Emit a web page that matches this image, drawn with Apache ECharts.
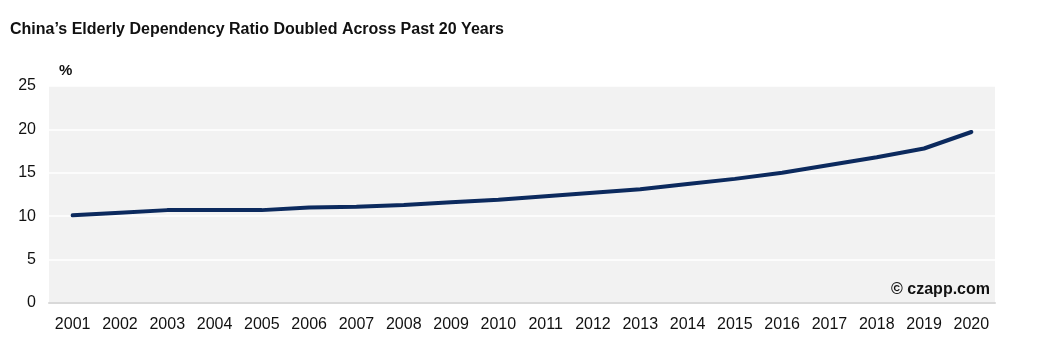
<!DOCTYPE html>
<html><head><meta charset="utf-8">
<script src="https://cdn.jsdelivr.net/npm/echarts@6/dist/echarts.min.js"></script>
<style>html,body{margin:0;padding:0;background:#fff}#c{width:1051px;height:363px}</style>
</head><body><div id="c"></div>
<script>
const categories = ['2001','2002','2003','2004','2005','2006','2007','2008','2009','2010','2011','2012','2013','2014','2015','2016','2017','2018','2019','2020'];
const ratio = [10.1,10.4,10.7,10.7,10.7,11.0,11.1,11.3,11.6,11.9,12.3,12.7,13.1,13.7,14.3,15.0,15.9,16.8,17.8,19.7];
const yTicks = [0,5,10,15,20,25];
const chart = echarts.init(document.getElementById('c'));
chart.setOption({
  animation:false,
  title:{text:"China\u2019s Elderly Dependency Ratio Doubled Across Past 20 Years",left:5,top:17,
    textStyle:{fontFamily:'Liberation Sans',fontSize:16,fontWeight:'bold',color:'#111'}},
  graphic:[
    {type:'text',left:59,top:63,style:{text:'%',font:'bold 15px "Liberation Sans"',fill:'#111'}},
    {type:'text',right:61,top:282,style:{text:'\u00a9 czapp.com',font:'bold 16px "Liberation Sans"',fill:'#111'}}
  ],
  grid:{left:49,right:56,top:86,bottom:60,show:true,backgroundColor:'#f2f2f2',borderWidth:0},
  xAxis:{type:'category',data:categories,boundaryGap:true,
    axisLine:{lineStyle:{color:'#d9d9d9',width:2}},axisTick:{show:false},
    axisLabel:{fontFamily:'Liberation Sans',fontSize:16,color:'#111',margin:14,interval:0}},
  yAxis:{type:'value',min:0,max:25,interval:5,
    axisLine:{show:false},axisTick:{show:false},
    axisLabel:{fontFamily:'Liberation Sans',fontSize:16,color:'#111',margin:13,
      formatter:v=>yTicks.includes(v)?String(v):''},
    splitLine:{lineStyle:{color:'#ffffff',width:1.5}}},
  series:[{type:'line',data:ratio,symbol:'none',lineStyle:{color:'#0c2a5e',width:4,cap:'round'}}]
});
</script></body></html>
